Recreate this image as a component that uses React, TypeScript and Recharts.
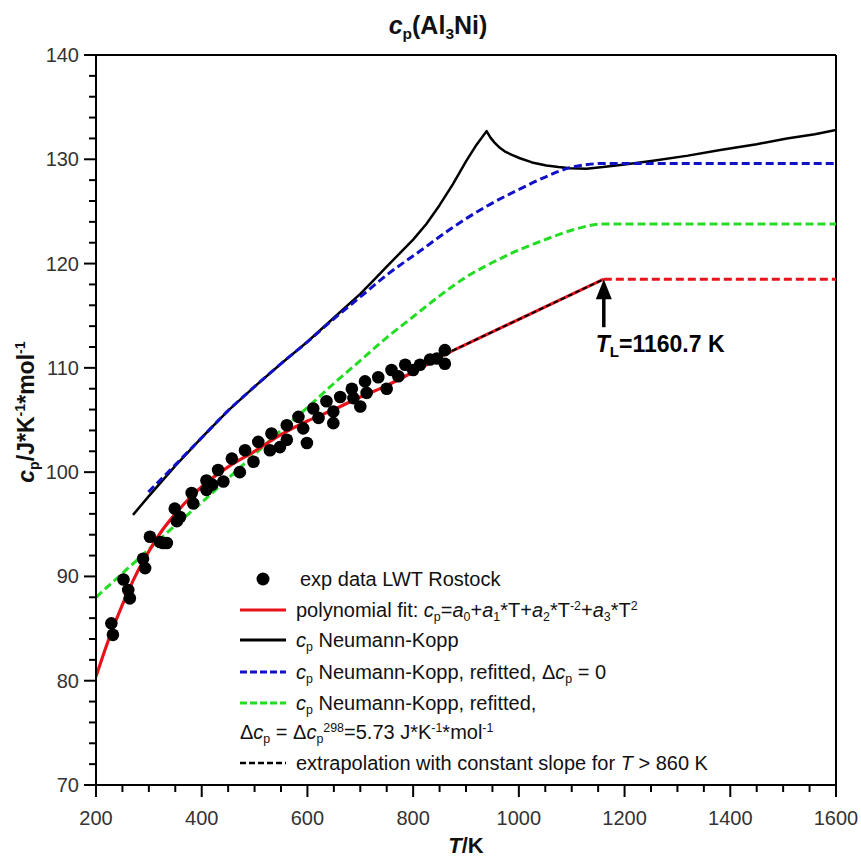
import React from 'react';
import { ComposedChart, Line, Scatter, XAxis, YAxis, ReferenceLine, ReferenceDot } from 'recharts';

const FONT = '"Liberation Sans", Arial, Helvetica, sans-serif';

// Experimental data (LWT Rostock)
const expT = [229, 232, 252, 261, 264, 289, 293, 302, 321, 327, 334, 349, 353, 359, 381, 384, 409, 409, 420, 431, 441, 457, 472, 482, 498, 507, 529, 532, 548, 561, 561, 583, 592, 599, 611, 621, 636, 649, 649, 662, 684, 687, 700, 709, 712, 734, 750, 759, 772, 785, 800, 813, 832, 845, 860, 860];
const expCp = [85.5, 84.4, 89.7, 88.7, 87.9, 91.7, 90.8, 93.8, 93.3, 93.2, 93.2, 96.5, 95.3, 95.7, 98.0, 97.0, 99.2, 98.3, 98.8, 100.2, 99.1, 101.3, 100.0, 102.1, 101.0, 102.9, 102.1, 103.7, 102.4, 103.1, 104.5, 105.3, 104.2, 102.8, 106.1, 105.2, 106.8, 105.8, 104.7, 107.2, 108.0, 107.1, 106.3, 108.7, 107.6, 109.1, 108.0, 109.8, 109.2, 110.3, 109.8, 110.3, 110.8, 110.9, 111.7, 110.4];

// Polynomial fit
const polyT = [200, 225, 250, 275, 300, 325, 350, 375, 400, 450, 500, 550, 600, 650, 700, 750, 800, 860];
const polyCp = [80.4, 84.1, 87.3, 90.1, 92.4, 94.4, 96.0, 97.4, 98.6, 100.5, 102.0, 103.6, 104.9, 106.0, 107.2, 108.3, 109.6, 111.3];

// Extrapolation with constant slope (860 K .. T_L) and constant above T_L
const TL = 1160.7;
const extT = [860, TL];
const extCp = [111.3, 118.5];
const liqT = [TL, 1600];
const liqCp = [118.5, 118.5];

// Neumann-Kopp
const nkT = [270, 300, 350, 400, 450, 500, 550, 600, 650, 700, 725, 750, 775, 800, 825, 850, 875, 900, 920, 939, 946, 954, 964, 975, 988, 1002, 1025, 1052, 1075, 1097, 1128, 1159, 1200, 1254, 1320, 1381, 1450, 1507, 1560, 1600];
const nkCp = [95.9, 97.7, 100.6, 103.3, 105.9, 108.2, 110.4, 112.5, 114.8, 117.1, 118.4, 119.7, 121.0, 122.3, 123.8, 125.6, 127.6, 129.8, 131.4, 132.7, 132.1, 131.6, 131.1, 130.7, 130.4, 130.1, 129.7, 129.4, 129.25, 129.15, 129.1, 129.25, 129.5, 129.85, 130.35, 130.9, 131.45, 132.0, 132.4, 132.8];

// Neumann-Kopp refitted, dcp = 0
const nkr0T = [299, 350, 400, 450, 500, 550, 600, 650, 700, 750, 813, 870, 939, 1000, 1050, 1097, 1130, 1160, 1600];
const nkr0Cp = [98.1, 100.7, 103.3, 105.9, 108.2, 110.4, 112.5, 114.7, 116.8, 118.9, 121.2, 123.3, 125.5, 127.1, 128.3, 129.2, 129.5, 129.6, 129.6];

// Neumann-Kopp refitted, dcp = 5.73
const nkr1T = [200, 250, 300, 350, 400, 450, 500, 550, 600, 650, 700, 750, 800, 850, 900, 950, 1000, 1050, 1100, 1160, 1600];
const nkr1Cp = [88.0, 90.3, 92.6, 94.9, 97.1, 99.4, 101.7, 104.0, 106.2, 108.5, 110.7, 112.9, 114.9, 116.9, 118.7, 120.1, 121.3, 122.3, 123.2, 123.8, 123.8];

const xMajor = [200, 400, 600, 800, 1000, 1200, 1400, 1600];
const yMajor = [70, 80, 90, 100, 110, 120, 130, 140];
const xTicks: number[] = [];
for (let v = 200; v <= 1600; v += 50) xTicks.push(v);
const yTicks: number[] = [];
for (let v = 70; v <= 140; v += 2) yTicks.push(v);

const pts = (ts: number[], cs: number[]) => ts.map((T, i) => ({ T, cp: cs[i] }));

const XTick = (props: any) => {
  const { x, y, payload } = props;
  const v = payload.value;
  const major = xMajor.includes(v);
  return (
    <g>
      <line x1={x} x2={x} y1={y} y2={y + (major ? 12 : 7)} stroke="#000" strokeWidth={2} />
      {major && (
        <text x={x} y={y + 40} textAnchor="middle" fontSize={20} fill="#333" fontFamily={FONT}>
          {v}
        </text>
      )}
    </g>
  );
};

const YTick = (props: any) => {
  const { x, y, payload } = props;
  const v = payload.value;
  const major = yMajor.includes(v);
  return (
    <g>
      <line x1={x - (major ? 12 : 7)} x2={x} y1={y} y2={y} stroke="#000" strokeWidth={2} />
      {major && (
        <text x={x - 17} y={y + 7} textAnchor="end" fontSize={20} fill="#333" fontFamily={FONT}>
          {v}
        </text>
      )}
    </g>
  );
};

const Arrow = (props: any) => {
  const { cx, cy } = props;
  return (
    <g>
      <line x1={cx} x2={cx} y1={cy + 14} y2={cy + 48} stroke="#000" strokeWidth={3.5} />
      <polygon points={`${cx},${cy} ${cx - 8},${cy + 20} ${cx + 8},${cy + 20}`} fill="#000" />
      <text x={cx - 8} y={cy + 73} fontSize={23} fontWeight="bold" fontFamily={FONT} fill="#000">
        <tspan fontStyle="italic">T</tspan>
        <tspan fontSize={15} dy={5}>L</tspan>
        <tspan dy={-5}>=1160.7 K</tspan>
      </text>
    </g>
  );
};

const Sub = ({ children }: any) => (
  <span style={{ fontSize: '0.62em', position: 'relative', top: '0.35em', fontStyle: 'normal' }}>{children}</span>
);
const Sup = ({ children }: any) => (
  <span style={{ fontSize: '0.62em', position: 'relative', top: '-0.6em', fontStyle: 'normal' }}>{children}</span>
);
const I = ({ children }: any) => <span style={{ fontStyle: 'italic' }}>{children}</span>;

const LineSym = ({ color, dash, width }: any) => (
  <svg width={48} height={10} style={{ position: 'absolute', left: 240, top: 7 }}>
    <line x1={0} x2={46} y1={5} y2={5} stroke={color} strokeWidth={width} strokeDasharray={dash} />
  </svg>
);

const rowStyle = (center: number): React.CSSProperties => ({
  position: 'absolute',
  left: 0,
  top: center - 12,
  height: 24,
  lineHeight: '24px',
  width: 861,
  whiteSpace: 'nowrap',
});

const LegendBox = () => (
  <div style={{ position: 'absolute', left: 0, top: 0, fontFamily: FONT, fontSize: 20, color: '#111' }}>
    <div style={rowStyle(579)}>
      <svg width={16} height={16} style={{ position: 'absolute', left: 255, top: 4 }}>
        <circle cx={8} cy={8} r={6.5} fill="#000" />
      </svg>
      <span style={{ position: 'absolute', left: 300 }}>exp data LWT Rostock</span>
    </div>
    <div style={rowStyle(610)}>
      <LineSym color="#e8121b" width={3} />
      <span style={{ position: 'absolute', left: 296 }}>
        polynomial fit: <I>c</I><Sub>p</Sub>=<I>a</I><Sub>0</Sub>+<I>a</I><Sub>1</Sub>*T+<I>a</I><Sub>2</Sub>*T<Sup>-2</Sup>+<I>a</I><Sub>3</Sub>*T<Sup>2</Sup>
      </span>
    </div>
    <div style={rowStyle(640)}>
      <LineSym color="#000" width={3} />
      <span style={{ position: 'absolute', left: 296 }}>
        <I>c</I><Sub>p</Sub> Neumann-Kopp
      </span>
    </div>
    <div style={rowStyle(672)}>
      <LineSym color="#1010c8" width={3} dash="7 3" />
      <span style={{ position: 'absolute', left: 296 }}>
        <I>c</I><Sub>p</Sub> Neumann-Kopp, refitted, Δ<I>c</I><Sub>p</Sub> = 0
      </span>
    </div>
    <div style={rowStyle(703)}>
      <LineSym color="#22dd22" width={3} dash="7 3" />
      <span style={{ position: 'absolute', left: 296 }}>
        <I>c</I><Sub>p</Sub> Neumann-Kopp, refitted,
      </span>
    </div>
    <div style={rowStyle(732)}>
      <span style={{ position: 'absolute', left: 240 }}>
        Δ<I>c</I><Sub>p</Sub> = Δ<I>c</I><Sub>p</Sub><Sup>298</Sup>=5.73 J*K<Sup>-1</Sup>*mol<Sup>-1</Sup>
      </span>
    </div>
    <div style={rowStyle(763)}>
      <LineSym color="#000" width={2.5} dash="6 3" />
      <span style={{ position: 'absolute', left: 296 }}>
        extrapolation with constant slope for <I>T</I> &gt; 860 K
      </span>
    </div>
  </div>
);

export default function App() {
  return (
    <div style={{ position: 'absolute', left: 0, top: 0, width: 861, height: 859, background: '#fff', fontFamily: FONT }}>
      <ComposedChart width={861} height={859} margin={{ top: 55, right: 25, bottom: 44, left: 36 }}>
        <XAxis
          type="number"
          dataKey="T"
          domain={[200, 1600]}
          ticks={xTicks}
          interval={0}
          tickSize={0}
          tickMargin={0}
          tickLine={false}
          tick={<XTick />}
          height={30}
          axisLine={{ stroke: '#000', strokeWidth: 2 }}
          allowDataOverflow
        />
        <YAxis
          type="number"
          dataKey="cp"
          domain={[70, 140]}
          ticks={yTicks}
          interval={0}
          tickSize={0}
          tickMargin={0}
          tickLine={false}
          tick={<YTick />}
          width={60}
          axisLine={{ stroke: '#000', strokeWidth: 2 }}
          allowDataOverflow
        />
        <ReferenceLine y={140} stroke="#000" strokeWidth={2} />
        <ReferenceLine x={1600} stroke="#000" strokeWidth={2} />
        <Scatter
          data={pts(expT, expCp)}
          dataKey="cp"
          fill="#000"
          isAnimationActive={false}
          shape={(p: any) => <circle cx={p.cx} cy={p.cy} r={6.3} fill="#000" />}
        />
        <Line data={pts(nkT, nkCp)} dataKey="cp" type="linear" stroke="#000" strokeWidth={2.5} strokeLinejoin="round" dot={false} isAnimationActive={false} />
        <Line data={pts(nkr0T, nkr0Cp)} dataKey="cp" type="monotone" stroke="#1010c8" strokeWidth={3} strokeDasharray="8 4" dot={false} isAnimationActive={false} />
        <Line data={pts(nkr1T, nkr1Cp)} dataKey="cp" type="monotone" stroke="#22dd22" strokeWidth={3} strokeDasharray="8 4" dot={false} isAnimationActive={false} />
        <Line data={pts(polyT, polyCp)} dataKey="cp" type="monotone" stroke="#e8121b" strokeWidth={3.2} dot={false} isAnimationActive={false} />
        <Line data={pts(extT, extCp)} dataKey="cp" type="linear" stroke="#e8121b" strokeWidth={3} dot={false} isAnimationActive={false} />
        <Line data={pts(extT, extCp)} dataKey="cp" type="linear" stroke="#000" strokeWidth={2} strokeDasharray="5 3" dot={false} isAnimationActive={false} />
        <Line data={pts(liqT, liqCp)} dataKey="cp" type="linear" stroke="#e8121b" strokeWidth={3} strokeDasharray="8 4" dot={false} isAnimationActive={false} />
        <ReferenceDot x={TL} y={118.5} r={0} shape={<Arrow />} />
      </ComposedChart>

      <div style={{ position: 'absolute', left: 338, width: 200, top: 10, textAlign: 'center', fontSize: 25, fontWeight: 'bold', lineHeight: '30px', color: '#111' }}>
        <I>c</I><Sub>p</Sub>(Al<Sub>3</Sub>Ni)
      </div>

      <div style={{ position: 'absolute', left: 366, width: 200, top: 833, textAlign: 'center', fontSize: 22, fontWeight: 'bold', lineHeight: '26px', color: '#111' }}>
        <I>T</I>/K
      </div>

      <div
        style={{
          position: 'absolute',
          left: 27,
          top: 412,
          transform: 'translate(-50%, -50%) rotate(-90deg)',
          fontSize: 23,
          fontWeight: 'bold',
          whiteSpace: 'nowrap',
          lineHeight: '28px',
          color: '#111',
        }}
      >
        <I>c</I><Sub>p</Sub>/J*K<Sup>-1</Sup>*mol<Sup>-1</Sup>
      </div>

      <LegendBox />
    </div>
  );
}
